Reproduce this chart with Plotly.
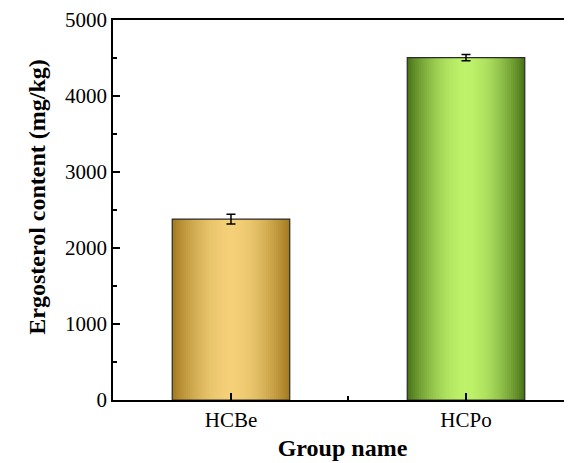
import math
import plotly.graph_objects as go

categories = ["HCBe", "HCPo"]
values = [2380, 4505]
errors = [65, 40]
edge_colors = ["#A57B20", "#4A7418"]
center_colors = ["#F4D078", "#BDF26A"]

positions = [i + 1 for i in range(len(categories))]
BAR_W = 0.5
N = 30

def hex2rgb(h):
    h = h.lstrip("#")
    return tuple(int(h[i:i + 2], 16) for i in (0, 2, 4))

def mix(a, b, t):
    ra, rb = hex2rgb(a), hex2rgb(b)
    return "rgb(%d,%d,%d)" % tuple(round(x + (y - x) * t) for x, y in zip(ra, rb))

fig = go.Figure()
for i in range(N):
    u = i / N
    t = math.sin(u * math.pi / 2) ** 0.9
    fig.add_trace(go.Bar(
        x=positions, y=values,
        width=[BAR_W * (1 - u)] * len(positions),
        marker=dict(color=[mix(e, c, t) for e, c in zip(edge_colors, center_colors)],
                    line=dict(width=0)),
        hoverinfo="skip", showlegend=False,
    ))
# outline + error bars
fig.add_trace(go.Bar(
    x=positions, y=values, width=[BAR_W] * len(positions),
    marker=dict(color="rgba(0,0,0,0)", line=dict(color="#2a2a2a", width=1.2)),
    error_y=dict(type="data", array=errors, color="black", thickness=1.5, width=4.5),
    hoverinfo="skip", showlegend=False,
))

font_family = "Times New Roman, Liberation Serif, serif"
fig.update_layout(
    width=564, height=455,
    margin=dict(l=105, r=0, t=12, b=63),
    barmode="overlay",
    plot_bgcolor="white", paper_bgcolor="white",
    font=dict(family=font_family, color="black", size=21),
    xaxis=dict(
        range=[0.498, 2.451],
        tickvals=positions, ticktext=categories,
        ticks="inside", ticklen=7, tickwidth=1.5, tickcolor="black",
        minor=dict(dtick=0.5, tick0=0.5, ticks="inside", ticklen=4, tickwidth=1.5, tickcolor="black"),
        showline=True, linecolor="black", linewidth=1.5, mirror=True,
        showgrid=False, zeroline=False,
        tickfont=dict(size=21),
        automargin=False,
        title=dict(text="<b>Group name</b>", font=dict(size=24), standoff=8),
    ),
    yaxis=dict(
        range=[0, 5000],
        dtick=1000,
        ticks="inside", ticklen=7, tickwidth=1.5, tickcolor="black",
        minor=dict(dtick=500, ticks="inside", ticklen=4, tickwidth=1.5, tickcolor="black"),
        showline=True, linecolor="black", linewidth=1.5, mirror=False,
        showgrid=False, zeroline=False,
        tickfont=dict(size=21),
        automargin=False,
    ),
    annotations=[dict(
        text="<b>Ergosterol content (mg/kg)</b>", textangle=-90,
        xref="paper", yref="paper", x=0, y=0.535, xshift=-76,
        xanchor="center", yanchor="middle", showarrow=False,
        font=dict(size=24, family=font_family, color="black"),
    )],
)
fig.write_html("out.html")
